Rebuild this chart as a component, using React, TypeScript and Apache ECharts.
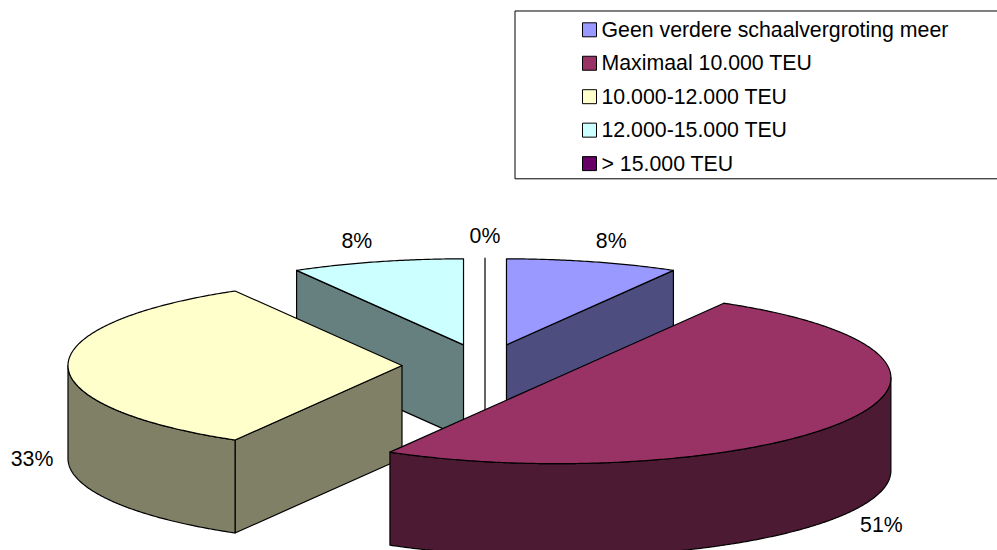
import React, { useEffect, useRef } from "react";
import * as echarts from "echarts";

const categories = [
  "Geen verdere schaalvergroting meer",
  "Maximaal 10.000 TEU",
  "10.000-12.000 TEU",
  "12.000-15.000 TEU",
  "> 15.000 TEU",
];
const sliceValues = [8.33, 50, 33.34, 8.33, 0];
// Percent labels as printed on the chart.
const percentLabels = ["8%", "51%", "33%", "8%", "0%"];
const topColors = ["#9999FF", "#993366", "#FFFFCC", "#CCFFFF", "#660066"];
const sideColors = ["#4D4D80", "#4D1A33", "#808066", "#668080", "#330033"];

const FONT = "Liberation Sans";
const FONT_SIZE = 21.3;
const CX = 485;
const CY = 365.5;
const RX = 334;
const RY = 86;
const DEPTH = 93;
const EXPLODE = 83;
const FRONT_SHIFT = 3;
const LABEL_MX = 36;
const LABEL_MY = 22;
const labelNudgeX = [9, 4, 0, -11, 0];

const rad = (d: number) => (d * Math.PI) / 180;
const total = sliceValues.reduce((a, b) => a + b, 0);

type Slice = { start: number; end: number; mid: number; ax: number; ay: number };
const slices: Slice[] = [];
{
  let acc = 0;
  sliceValues.forEach((v) => {
    const start = (acc / total) * 360;
    acc += v;
    const end = (acc / total) * 360;
    const mid = (start + end) / 2;
    const c = Math.cos(rad(mid));
    slices.push({
      start,
      end,
      mid,
      ax: CX + Math.sin(rad(mid)) * EXPLODE,
      ay: CY - (c * EXPLODE * RY) / RX + Math.max(0, -c) * FRONT_SHIFT,
    });
  });
}

const rimPoint = (s: Slice, deg: number, dy = 0): number[] => [
  s.ax + Math.sin(rad(deg)) * RX,
  s.ay - Math.cos(rad(deg)) * RY + dy,
];

const arc = (s: Slice, from: number, to: number, dy = 0): number[][] => {
  const n = Math.max(1, Math.ceil(Math.abs(to - from) * 2));
  const pts: number[][] = [];
  for (let i = 0; i <= n; i++) pts.push(rimPoint(s, from + ((to - from) * i) / n, dy));
  return pts;
};

const renderSlice = (index: number) => (_params: any, api: any) => {
  api.value(0);
  const s = slices[index];
  const lineStyle = (fill: string) => ({ fill, stroke: "#000", lineWidth: 1.2, lineJoin: "round" });
  const poly = (points: number[][], fill: string) => ({
    type: "polygon",
    shape: { points },
    style: lineStyle(fill),
    silent: true,
  });
  const wall = (deg: number) =>
    poly(
      [rimPoint(s, deg), [s.ax, s.ay], [s.ax, s.ay + DEPTH], rimPoint(s, deg, DEPTH)],
      sideColors[index]
    );
  const children: any[] = [];
  const empty = s.end - s.start < 1e-6;
  if (empty) {
    children.push(wall(s.start));
  } else {
    if (Math.sin(rad(s.start)) < -1e-9) children.push(wall(s.start));
    if (Math.sin(rad(s.end)) > 1e-9) children.push(wall(s.end));
    const from = Math.max(s.start, 90);
    const to = Math.min(s.end, 270);
    if (to > from) {
      children.push(poly([...arc(s, from, to), ...arc(s, to, from, DEPTH)], sideColors[index]));
    }
    children.push(poly([[s.ax, s.ay], ...arc(s, s.start, s.end)], topColors[index]));
  }
  const c = Math.cos(rad(s.mid));
  const lx = s.ax + Math.sin(rad(s.mid)) * (RX + LABEL_MX) + labelNudgeX[index];
  const ly = s.ay - c * (RY + LABEL_MY) + (c < 0.01 ? DEPTH : 0);
  children.push({
    type: "text",
    silent: true,
    style: {
      text: percentLabels[index],
      x: lx,
      y: ly,
      fill: "#000",
      fontFamily: FONT,
      fontSize: FONT_SIZE,
      align: "center",
      verticalAlign: "middle",
    },
  });
  return { type: "group", children };
};

export default function App() {
  const ref = useRef<HTMLDivElement>(null);
  useEffect(() => {
    document.body.style.margin = "0";
    const chart = echarts.init(ref.current!, null, { renderer: "svg" });
    chart.setOption({
      animation: false,
      backgroundColor: "#fff",
      legend: {
        data: categories,
        orient: "vertical",
        left: 515,
        top: 11,
        padding: [8.3, 60, 4.7, 67],
        itemWidth: 14,
        itemHeight: 14,
        itemGap: 12.45,
        icon: "rect",
        selectedMode: false,
        backgroundColor: "#fff",
        borderColor: "#000",
        borderWidth: 1,
        itemStyle: { borderColor: "#000", borderWidth: 1 },
        textStyle: { fontFamily: FONT, fontSize: FONT_SIZE, color: "#000", padding: 0 },
      },
      series: categories.map((name, i) => ({
        type: "custom",
        name,
        coordinateSystem: "none",
        z: Math.round(slices[i].ay),
        itemStyle: { color: topColors[i] },
        renderItem: renderSlice(i),
        data: [[sliceValues[i]]],
      })),
    });
    return () => chart.dispose();
  }, []);
  return <div ref={ref} style={{ position: "absolute", left: 0, top: 0, width: 997, height: 550 }} />;
}
